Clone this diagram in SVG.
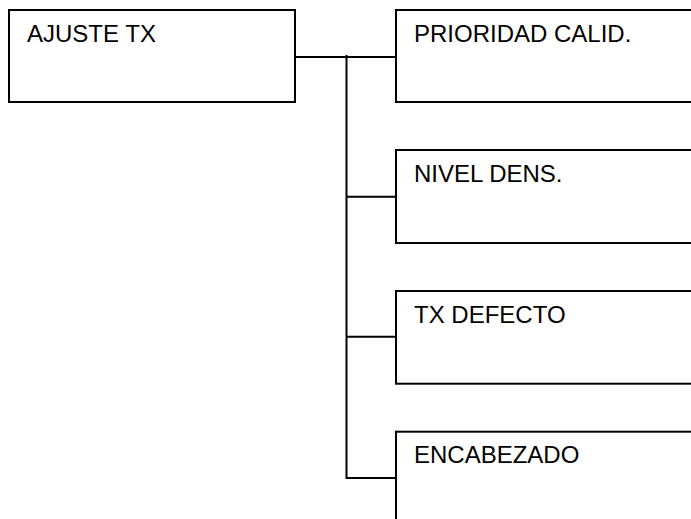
<svg xmlns="http://www.w3.org/2000/svg" width="691" height="519" viewBox="0 0 691 519">
<style>
.box{fill:#fff;stroke:#000;stroke-width:2}
.lbl{font-family:"Liberation Sans",Arial,sans-serif;font-size:24px;fill:#000}
.con{fill:none;stroke:#000;stroke-width:2}
</style>
<rect width="691" height="519" fill="#fff"/>
<g id="connectors">
<path class="con" d="M295 57H396M346.5 55V479M346.5 196.7H396M346.5 336.7H396M346.5 478H396"/>
</g>
<g id="n-ajuste"><rect class="box" x="9" y="10" width="286" height="92"/><text class="lbl" x="27" y="41.5">AJUSTE TX</text></g>
<g id="n-prioridad"><rect class="box" x="396" y="10" width="320" height="92"/><text class="lbl" x="414" y="41.5">PRIORIDAD CALID.</text></g>
<g id="n-nivel"><rect class="box" x="396" y="150" width="320" height="93"/><text class="lbl" x="414" y="181.5">NIVEL DENS.</text></g>
<g id="n-txdefecto"><rect class="box" x="396" y="291" width="320" height="92.7"/><text class="lbl" x="414" y="322.5">TX DEFECTO</text></g>
<g id="n-encabezado"><rect class="box" x="396" y="431.7" width="320" height="120"/><text class="lbl" x="414" y="463">ENCABEZADO</text></g>
</svg>
